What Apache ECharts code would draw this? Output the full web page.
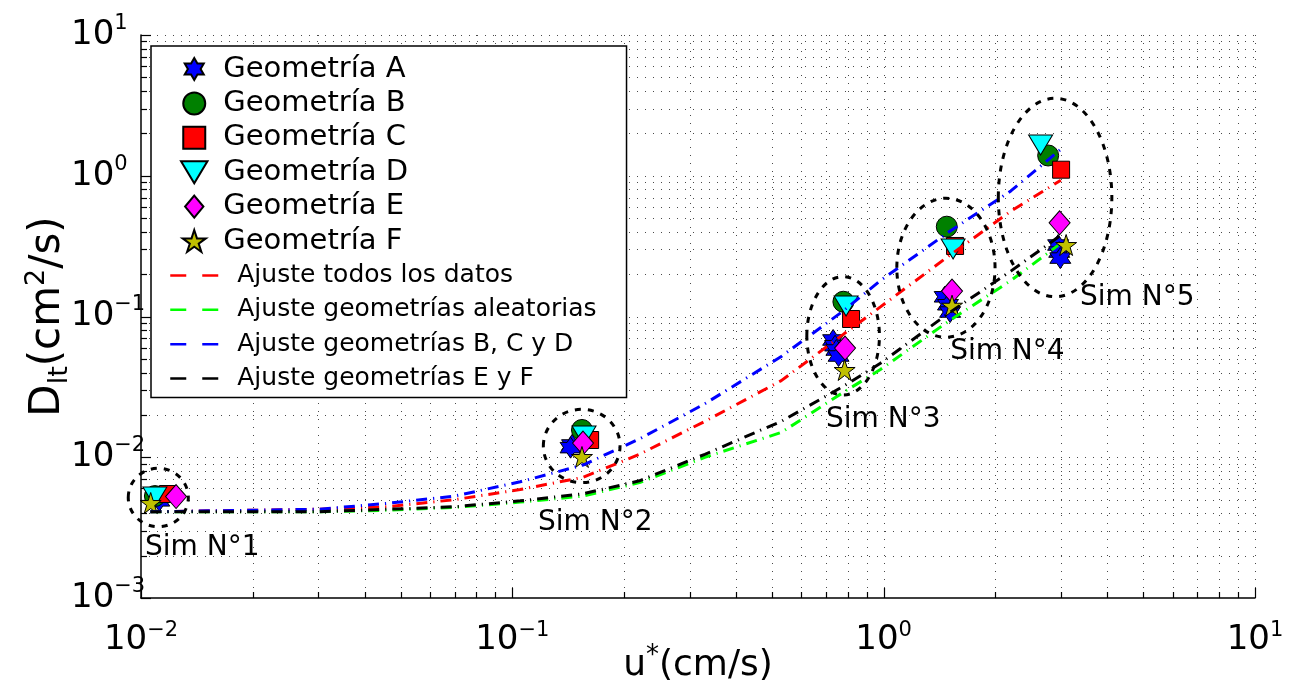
<!DOCTYPE html>
<html>
<head>
<meta charset="utf-8">
<script src="https://cdn.jsdelivr.net/npm/echarts@6/dist/echarts.min.js"></script>
<style>
html,body{margin:0;padding:0;background:#fff;}
#chart{width:1298px;height:696px;}
</style>
</head>
<body>
<div id="chart"></div>
<script>
const FONT = 'DejaVu Sans';

// ---- data (u* in cm/s, D_lt in cm2/s) ----
const geomNames = ['Geometría A','Geometría B','Geometría C','Geometría D','Geometría E','Geometría F'];
const geomA = [[0.0112,0.0049],[0.1448,0.01222],[0.1435,0.0117],[0.731,0.0681],[0.740,0.0620],[0.746,0.0578],[0.756,0.0524],[1.46,0.138],[1.49,0.1212],[1.51,0.1076],[2.95,0.322],[2.97,0.287],[2.99,0.260]];
const geomB = [[0.0109,0.0053],[0.154,0.01563],[0.779,0.1273],[1.479,0.4347],[2.773,1.393]];
const geomC = [[0.01182,0.00548],[0.162,0.01326],[0.817,0.0960],[1.557,0.317],[3.005,1.104]];
const geomD = [[0.0109,0.00522],[0.156,0.01416],[0.792,0.1188],[1.538,0.302],[2.646,1.654]];
const geomE = [[0.01243,0.00526],[0.155,0.01262],[0.787,0.0597],[1.528,0.1517],[2.977,0.463]];
const geomF = [[0.01062,0.00473],[0.154,0.01004],[0.785,0.0417],[1.528,0.1193],[3.10,0.322]];

const fitNames = ['Ajuste todos los datos','Ajuste geometrías aleatorias','Ajuste geometrías B, C y D','Ajuste geometrías E y F'];
const fitAll = [[0.0106,0.0041],[0.03,0.00427],[0.046,0.00445],[0.07,0.0050],[0.105,0.0059],[0.155,0.0072],[0.22,0.0105],[0.33,0.018],[0.53,0.035],[0.78,0.075],[0.98,0.117],[1.5,0.27],[2.2,0.56],[3.0,0.93]];
const fitRandom = [[0.0106,0.0041],[0.03,0.0041],[0.046,0.0042],[0.07,0.0044],[0.105,0.0048],[0.155,0.0053],[0.22,0.0066],[0.33,0.0100],[0.53,0.0150],[0.78,0.029],[0.98,0.042],[1.5,0.093],[2.2,0.18],[2.95,0.32]];
const fitBCD = [[0.0106,0.0041],[0.03,0.00427],[0.046,0.0047],[0.07,0.0053],[0.105,0.0067],[0.155,0.0088],[0.22,0.0135],[0.33,0.024],[0.53,0.052],[0.78,0.11],[0.98,0.18],[1.5,0.40],[2.2,0.78],[3.05,1.6]];
const fitEF = [[0.0106,0.0041],[0.03,0.0041],[0.046,0.00427],[0.07,0.00445],[0.105,0.0049],[0.155,0.0055],[0.22,0.0068],[0.33,0.0105],[0.53,0.018],[0.78,0.032],[0.98,0.0465],[1.5,0.106],[2.2,0.21],[3.05,0.39]];

// simulation groups: ellipse extents [uMin,uMax,DMin,DMax] and label anchors [u,D]
const simLabels = ['Sim N°1','Sim N°2','Sim N°3','Sim N°4','Sim N°5'];
const simBoxes = [[0.00924,0.01341,0.00321,0.00835],[0.1212,0.195,0.0066,0.0219],[0.621,0.974,0.0277,0.1918],[1.085,1.995,0.0712,0.692],[2.036,4.116,0.1382,3.55]];
const simLabelPos = [[0.01025,0.00226],[0.1173,0.00341],[0.6996,0.0184],[1.51,0.0560],[3.38,0.1353]];

// axis ticks
const xMajorTicks = [0.01,0.1,1,10];
const xMinorTicks = [0.02,0.03,0.04,0.05,0.06,0.07,0.08,0.09,0.2,0.3,0.4,0.5,0.6,0.7,0.8,0.9,2,3,4,5,6,7,8,9];
const yMajorTicks = [0.001,0.01,0.1,1,10];
const yMinorTicks = [0.002,0.003,0.004,0.005,0.006,0.007,0.008,0.009,0.02,0.03,0.04,0.05,0.06,0.07,0.08,0.09,0.2,0.3,0.4,0.5,0.6,0.7,0.8,0.9,2,3,4,5,6,7,8,9];

const X_MIN = 0.01, X_MAX = 10, Y_MIN = 0.001, Y_MAX = 10;

// symbols
const hexagram = 'path://M10,0L12.887,5L18.66,5L15.774,10L18.66,15L12.887,15L10,20L7.113,15L1.34,15L4.226,10L1.34,5L7.113,5Z';
const pentagram = 'path://M10,0L12.245,6.91L19.511,6.91L13.633,11.18L15.878,18.09L10,13.82L4.122,18.09L6.367,11.18L0.489,6.91L7.755,6.91Z';
const triDown = 'path://M0,0L24,0L12,20Z';
const square = 'path://M0,0L10,0L10,10L0,10Z';
const diamond = 'path://M10,0L20,12L10,24L0,12Z';

const chart = echarts.init(document.getElementById('chart'), null, {renderer:'canvas'});

function expLabel(v){
  const e = Math.round(Math.log10(v));
  return '{b|10}{s|' + (e < 0 ? '\u2212' + (-e) : e) + '}';
}

const geomStyles = [
  {data: geomA, symbol: hexagram, size: 21, color: '#0000ff'},
  {data: geomB, symbol: 'circle', size: 21, color: '#008000'},
  {data: geomC, symbol: square, size: 17, color: '#ff0000'},
  {data: geomD, symbol: triDown, size: [24,20], color: '#00ffff'},
  {data: geomE, symbol: diamond, size: [21,24], color: '#ff00ff'},
  {data: geomF, symbol: pentagram, size: 21, color: '#bfbf00'}
];
const fitData = [fitAll, fitRandom, fitBCD, fitEF];
const fitColors = ['#ff0000','#00ff00','#0000ff','#000000'];

const series = [];

// grid lines + ticks (x)
series.push({
  type: 'custom', name: 'xgrid', silent: true, z: 1,
  data: xMajorTicks.map(v => [v, 1]).concat(xMinorTicks.map(v => [v, 0])),
  encode: {x: 0},
  renderItem: function(params, api){
    const cs = params.coordSys;
    const p = api.coord([api.value(0), Y_MIN]);
    const x = Math.round(p[0]) + 0.5;
    const len = api.value(1) ? 10 : 6;
    const kids = [];
    if (api.value(0) > X_MIN * 1.001) {
      kids.push({type:'line', shape:{x1:x,y1:cs.y,x2:x,y2:cs.y+cs.height}, style:{stroke:'#4a4a4a', lineWidth:1, lineDash:[1,7]}});
    }
    kids.push({type:'line', shape:{x1:x,y1:cs.y+cs.height,x2:x,y2:cs.y+cs.height-len}, style:{stroke:'#000', lineWidth:1.2}});
    return {type:'group', children: kids};
  }
});
// grid lines + ticks (y)
series.push({
  type: 'custom', name: 'ygrid', silent: true, z: 1,
  data: yMajorTicks.map(v => [X_MIN, v, 1]).concat(yMinorTicks.map(v => [X_MIN, v, 0])),
  encode: {x: 0, y: 1},
  renderItem: function(params, api){
    const cs = params.coordSys;
    const p = api.coord([X_MIN, api.value(1)]);
    const y = Math.round(p[1]) + 0.5;
    const len = api.value(2) ? 10 : 6;
    const kids = [];
    if (api.value(1) > Y_MIN * 1.001) {
      kids.push({type:'line', shape:{x1:cs.x,y1:y,x2:cs.x+cs.width,y2:y}, style:{stroke:'#4a4a4a', lineWidth:1, lineDash:[1,7]}});
    }
    kids.push({type:'line', shape:{x1:cs.x,y1:y,x2:cs.x+len,y2:y}, style:{stroke:'#000', lineWidth:1.2}});
    return {type:'group', children: kids};
  }
});

geomStyles.forEach((g, i) => {
  series.push({
    type: 'scatter', name: geomNames[i], data: g.data,
    symbol: g.symbol, symbolSize: g.size, symbolKeepAspect: false,
    itemStyle: {color: g.color, borderColor: '#000', borderWidth: 1, opacity: 1},
    z: 2
  });
});

fitData.forEach((d, i) => {
  series.push({
    type: 'line', name: fitNames[i], data: d, symbol: 'none', showSymbol: false, smooth: false,
    lineStyle: {color: fitColors[i], width: 3, type: [11,6,1.2,6]},
    itemStyle: {color: fitColors[i]},
    z: 3
  });
});

// ellipses
series.push({
  type: 'custom', name: 'sims', silent: true, z: 4,
  data: simBoxes,
  encode: {x: [0,1], y: [2,3]},
  renderItem: function(params, api){
    const p1 = api.coord([api.value(0), api.value(3)]);
    const p2 = api.coord([api.value(1), api.value(2)]);
    return {type:'ellipse', shape:{cx:(p1[0]+p2[0])/2, cy:(p1[1]+p2[1])/2, rx:Math.abs(p2[0]-p1[0])/2, ry:Math.abs(p2[1]-p1[1])/2},
      style:{fill:'none', stroke:'#000', lineWidth:3, lineDash:[6,7]}};
  }
});
// sim labels
series.push({
  type: 'custom', name: 'simlabels', silent: true, z: 5,
  data: simLabelPos,
  encode: {x: 0, y: 1},
  renderItem: function(params, api){
    const p = api.coord([api.value(0), api.value(1)]);
    return {type:'text', x: p[0], y: p[1], style:{text: simLabels[params.dataIndex], fill:'#000', fontSize: 28, fontFamily: FONT, align:'left', verticalAlign:'middle'}};
  }
});

const legendData = geomNames.map(n => ({name: n})).concat(
  fitNames.map(n => ({name: n, lineStyle: {type: [16,16], width: 2.5},
    itemStyle: {color: 'rgba(0,0,0,0)', borderColor: 'rgba(0,0,0,0)', borderWidth: 0}}))
);

chart.setOption({
  animation: false,
  backgroundColor: '#ffffff',
  grid: {left: 141, right: 43, top: 35, bottom: 98, containLabel: false, outerBoundsMode: 'none'},
  xAxis: {
    type: 'log', logBase: 10, min: X_MIN, max: X_MAX,
    name: 'u{s|*}(cm/s)', nameLocation: 'middle', nameGap: 45, nameMoveOverlap: false,
    nameTextStyle: {fontSize: 36, fontFamily: FONT, color: '#000', lineHeight: 46, verticalAlign: 'top',
      rich: {s: {fontSize: 26, fontFamily: FONT, lineHeight: 30, verticalAlign: 'top'}}},
    axisLine: {show: true, lineStyle: {color: '#000', width: 1.5}},
    axisTick: {show: false}, splitLine: {show: false}, minorTick: {show: false},
    axisLabel: {
      margin: 22, formatter: expLabel, color: '#000',
      rich: {
        b: {fontSize: 34, fontFamily: FONT, color: '#000', lineHeight: 40},
        s: {fontSize: 21, fontFamily: FONT, color: '#000', lineHeight: 16, verticalAlign: 'top'}
      }
    }
  },
  yAxis: {
    type: 'log', logBase: 10, min: Y_MIN, max: Y_MAX,
    name: 'D{sub|lt}(cm{sup|2}/s)', nameLocation: 'middle', nameGap: 68, nameRotate: 90, nameMoveOverlap: false,
    nameTextStyle: {fontSize: 42, fontFamily: FONT, color: '#000', lineHeight: 50,
      rich: {
        sub: {fontSize: 27, fontFamily: FONT, lineHeight: 26, verticalAlign: 'bottom'},
        sup: {fontSize: 27, fontFamily: FONT, lineHeight: 26, verticalAlign: 'top'}
      }},
    axisLine: {show: true, lineStyle: {color: '#000', width: 1.5}},
    axisTick: {show: false}, splitLine: {show: false}, minorTick: {show: false},
    axisLabel: {
      margin: 70, align: 'left', formatter: expLabel, color: '#000',
      rich: {
        b: {fontSize: 34, fontFamily: FONT, color: '#000', lineHeight: 44},
        s: {fontSize: 21, fontFamily: FONT, color: '#000', lineHeight: 10, verticalAlign: 'top'}
      }
    }
  },
  legend: {
    show: true, orient: 'vertical', left: 151, top: 46, z: 10,
    data: legendData,
    itemWidth: 48, itemHeight: 22, itemGap: 4.4,
    padding: [8, 30, 4, 18],
    backgroundColor: '#ffffff', borderColor: '#000', borderWidth: 1.5, borderRadius: 0,
    formatter: function(name){ return name.indexOf('Geometr') === 0 ? '{g|' + name + '}' : '{a|' + name + '}'; },
    textStyle: {fontSize: 27, fontFamily: FONT, color: '#000', lineHeight: 30,
      rich: {
        g: {fontSize: 29, fontFamily: FONT, color: '#000', lineHeight: 30},
        a: {fontSize: 25, fontFamily: FONT, color: '#000', lineHeight: 30, padding: [0,0,0,14]}
      }},
    selectedMode: false
  },
  series: series
});
</script>
</body>
</html>
